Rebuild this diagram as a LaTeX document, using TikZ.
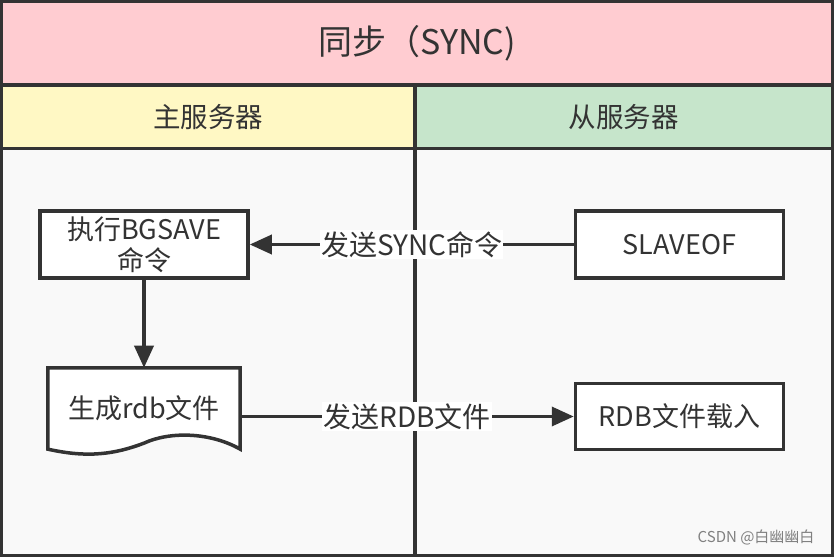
\documentclass[tikz,border=0pt]{standalone}
\usepackage{fontspec}
\setmainfont{Noto Sans CJK SC}
\usetikzlibrary{positioning, arrows.meta}
\definecolor{edge}{HTML}{333333}
\definecolor{syncpink}{HTML}{FFCCD1}
\definecolor{masteryellow}{HTML}{FFF8C4}
\definecolor{slavegreen}{HTML}{C6E5CB}
\definecolor{bodygrey}{HTML}{F9F9F9}

\begin{document}
\begin{tikzpicture}[x=1pt, y=1pt,
    lane/.style={draw=edge, line width=3.5pt, rectangle, inner sep=0pt, outer sep=0pt, text=edge},
    procbox/.style={draw=edge, line width=3.5pt, fill=white, rectangle, text=edge,
                    minimum width=208pt, minimum height=67pt, inner sep=2pt, align=center,
                    font=\fontsize{27}{31}\selectfont},
    flow/.style={draw=edge, line width=3.5pt, -{Triangle[length=22pt, width=19pt]}},
    flowlabel/.style={fill=white, inner sep=1pt, text=edge, font=\fontsize{28}{32}\selectfont}]
    \useasboundingbox (0,0) rectangle (834,557);

    % lanes
    \node[lane, fill=syncpink, minimum width=831pt, minimum height=83.5pt,
          font=\fontsize{34}{40}\selectfont] (sync) at (417,513.75) {同步（SYNC)};
    \node[lane, fill=masteryellow, minimum width=413.5pt, minimum height=63.5pt,
          font=\fontsize{27.5}{32}\selectfont] (masterhead) at (208.25,440.25) {主服务器};
    \node[lane, fill=slavegreen, minimum width=417.5pt, minimum height=63.5pt,
          font=\fontsize{27.5}{32}\selectfont] (slavehead) at (623.75,440.25) {从服务器};
    \node[lane, fill=bodygrey, minimum width=413.5pt, minimum height=407pt] (masterlane) at (208.25,205) {};
    \node[lane, fill=bodygrey, minimum width=417.5pt, minimum height=407pt] (slavelane) at (623.75,205) {};

    % steps
    \node[procbox] (bgsave) at (144,312.5) {执行BGSAVE\\命令};
    \node[procbox, right=324pt of bgsave] (slaveof) {SLAVEOF};
    \node[text=edge, minimum width=192pt, minimum height=81pt, inner sep=0pt,
          below=88pt of bgsave] (rdbgen) {};
    \draw[draw=edge, line width=3.5pt, fill=white]
        (rdbgen.south east) -- (rdbgen.north east) -- (rdbgen.north west) -- (rdbgen.south west)
        .. controls +(40,-9) and +(-29,-11) .. ([yshift=6pt]rdbgen.south)
        .. controls +(26,12) and +(-30,17) .. (rdbgen.south east) -- cycle;
    \node[text=edge, font=\fontsize{27}{31}\selectfont] at ([yshift=0pt]rdbgen.center) {生成rdb文件};
    \node[procbox, below=102pt of slaveof, minimum height=66pt] (rdbload) {RDB文件载入};

    % messages
    \draw[flow] (slaveof) -- (bgsave) node[flowlabel, midway] (synclabel) {发送SYNC命令};
    \draw[flow] (bgsave) -- (rdbgen.north);
    \draw[flow] (rdbgen.east |- rdbload.west) -- (rdbload.west) node[flowlabel, midway] (rdblabel) {发送RDB文件};

    \node[text=gray, font=\fontsize{15}{18}\selectfont, anchor=south east] (mark) at (818,8) {CSDN @白幽幽白};
\end{tikzpicture}
\end{document}
